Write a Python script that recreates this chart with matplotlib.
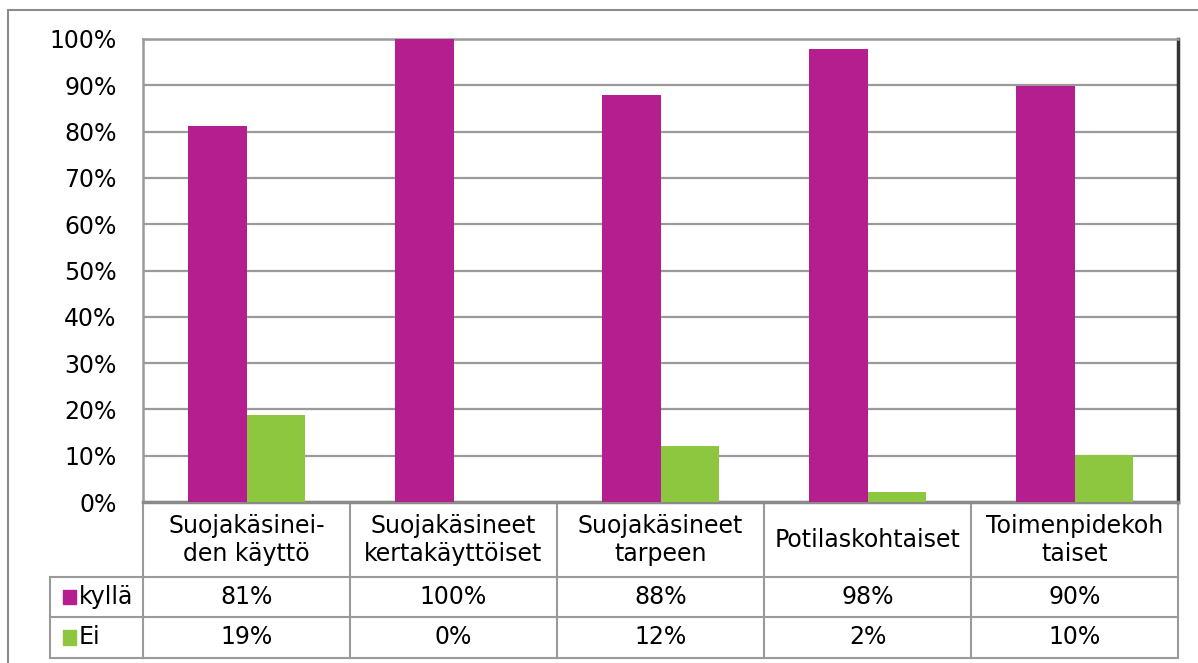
import numpy as np
import matplotlib.pyplot as plt
from matplotlib.transforms import blended_transform_factory
from matplotlib.patches import Rectangle

# data
categories = ["Suojakäsinei-\nden käyttö", "Suojakäsineet\nkertakäyttöiset",
              "Suojakäsineet\ntarpeen", "Potilaskohtaiset", "Toimenpidekoh\ntaiset"]
series_names = ["kyllä", "Ei"]
kylla = [81.3, 100.0, 88.0, 97.8, 89.9]
ei = [18.7, 0.0, 12.0, 2.2, 10.1]
y_ticks = [0, 10, 20, 30, 40, 50, 60, 70, 80, 90, 100]

colors = ["#B41E8E", "#8DC63F"]
grid_col = "#9a9a9a"
fs = 17

plt.rcParams['font.family'] = ['DejaVu Sans']

fig = plt.figure(figsize=(11.98, 6.63), dpi=100)
W, H = 1198, 663

# outer chart border (runs off the right/bottom of the image)
fig.patches.append(Rectangle((8 / W, -0.1), 1.1, 1 - 10 / H + 0.1, transform=fig.transFigure,
                             fill=False, edgecolor="#8c8c8c", lw=1.5))

ax = fig.add_axes([143 / W, 1 - 502 / H, (1178 - 143) / W, (502 - 39) / H])
x = np.arange(len(categories))
bw = 0.285
ax.bar(x - bw / 2, kylla, bw, color=colors[0], zorder=3)
ax.bar(x + bw / 2, ei, bw, color=colors[1], zorder=3)

ax.set_xlim(-0.5, len(categories) - 0.5)
ax.set_ylim(0, 100)
ax.set_yticks(y_ticks)
ax.set_yticklabels([f"{t}%" for t in y_ticks], fontsize=fs)
ax.tick_params(axis='y', length=0, pad=19)
ax.set_xticks([])
ax.yaxis.grid(True, color=grid_col, lw=1.6, zorder=0)

for s in ["left", "top"]:
    ax.spines[s].set_color(grid_col)
    ax.spines[s].set_linewidth(1.8)
ax.spines["bottom"].set_color("#8a8a8a")
ax.spines["bottom"].set_linewidth(2.5)
ax.spines["right"].set_color("#333333")
ax.spines["right"].set_linewidth(2.5)

# data table below the plot
tr = blended_transform_factory(ax.transData, ax.transAxes)
def fy(ypix):
    return (502 - ypix) / 463

x_left = -0.5 - 93 / 207
row_lines = [577, 617, 658]
for yp in row_lines:
    ax.plot([x_left, len(categories) - 0.5], [fy(yp), fy(yp)], transform=tr,
            color=grid_col, lw=1.5, clip_on=False)
for xb in np.arange(len(categories) + 1) - 0.5:
    ax.plot([xb, xb], [0, fy(658)], transform=tr, color=grid_col, lw=1.5, clip_on=False)
ax.plot([x_left, x_left], [fy(577), fy(658)], transform=tr, color=grid_col, lw=1.5, clip_on=False)

for i, c in enumerate(categories):
    ax.text(i, fy(540), c, transform=tr, ha='center', va='center', fontsize=fs,
            linespacing=1.25)

row_centers = [fy(597), fy(637.5)]
for vals, name, col, yc in zip([kylla, ei], series_names, colors, row_centers):
    for i, v in enumerate(vals):
        ax.text(i, yc, f"{v:.0f}%", transform=tr, ha='center', va='center', fontsize=fs)
    ax.text(-0.5 - 64 / 207, yc, name, transform=tr, ha='left', va='center', fontsize=fs)
    ax.add_patch(Rectangle((-0.5 - 80 / 207, yc - 0.016), 13 / 207, 0.032, transform=tr,
                           color=col, clip_on=False))

fig.savefig("out.png", dpi=100)
